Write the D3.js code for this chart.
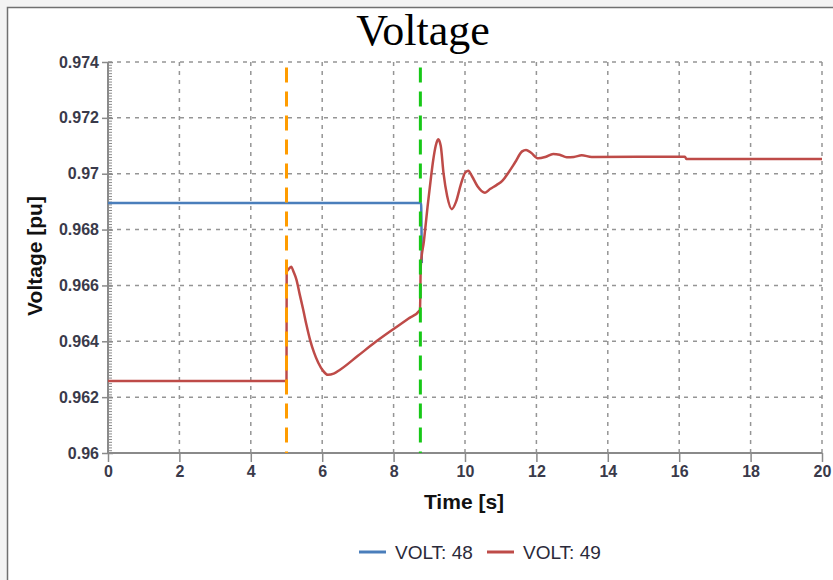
<!DOCTYPE html>
<html>
<head>
<meta charset="utf-8">
<script src="https://cdn.jsdelivr.net/npm/d3@7/dist/d3.min.js"></script>
<style>
  html, body { margin: 0; padding: 0; background: #f3f3f3; }
  svg { display: block; }
</style>
</head>
<body>
<svg id="chart" width="833" height="580"></svg>
<script>

// chart data
const volt48Time = [0, 8.77, 8.79];
const volt48Value = [0.96895, 0.96895, 0.96680];

const volt49Time = [
  0, 5.0, 5.005, 5.04, 5.13, 5.2, 5.28, 5.37, 5.47, 5.56, 5.66, 5.77, 5.89,
  6.02, 6.16, 6.32, 6.5, 7.0, 7.5, 8.0, 8.4, 8.74, 8.76, 8.85, 8.95, 9.05,
  9.11, 9.18, 9.25, 9.32, 9.4, 9.5, 9.63, 9.75, 9.88, 10.0, 10.09, 10.2,
  10.35, 10.56, 10.7, 10.89, 11.05, 11.2, 11.4, 11.6, 11.71, 11.85, 12.05,
  12.25, 12.47, 12.65, 12.85, 13.05, 13.27, 13.55, 16.16, 16.2, 20
];
const volt49Value = [
  0.96258, 0.96258, 0.96650, 0.96655, 0.96667, 0.96648, 0.96620, 0.96568,
  0.96512, 0.96458, 0.96405, 0.96360, 0.96323, 0.96295, 0.96280, 0.96284,
  0.96298, 0.96348, 0.96398, 0.96444, 0.96480, 0.96512, 0.96668, 0.96760,
  0.96880, 0.96990, 0.97049, 0.97100, 0.97123, 0.97100, 0.97000, 0.96920,
  0.96873, 0.96900, 0.96960, 0.97003, 0.97011, 0.96990, 0.96955, 0.96932,
  0.96945, 0.96960, 0.96975, 0.97001, 0.97040, 0.97080, 0.97085, 0.97075,
  0.97055, 0.97060, 0.97071, 0.97068, 0.97059, 0.97060, 0.97066, 0.97060,
  0.97061, 0.97053, 0.97053
];

const seriesNames = ['VOLT: 48', 'VOLT: 49'];
const seriesColors = ['#4a7ebb', '#be4b48'];

const eventTimes = [5.0, 8.75];
const eventColors = ['#ff9c00', '#17c817'];

const xTicks = [0, 2, 4, 6, 8, 10, 12, 14, 16, 18, 20];
const yTicks = [0.96, 0.962, 0.964, 0.966, 0.968, 0.97, 0.972, 0.974];
const yTickLabels = ['0.96', '0.962', '0.964', '0.966', '0.968', '0.97', '0.972', '0.974'];


const svg = d3.select('#chart');
const width = 833;
const height = 580;
const plot = { left: 108, right: 822, top: 62, bottom: 453 };

const x = d3.scaleLinear().domain([0, 20]).range([plot.left, plot.right]);
const y = d3.scaleLinear().domain([0.96, 0.974]).range([plot.bottom, plot.top]);

// frame
svg.append('rect')
  .attr('x', 7).attr('y', 7)
  .attr('width', width - 7).attr('height', height - 7)
  .style('fill', '#fff');

svg.append('path')
  .attr('d', `M7.5,${height} V7.5 H${width}`)
  .style('fill', 'none')
  .style('stroke', '#707070')
  .style('stroke-width', 1.5);

// title
svg.append('text')
  .attr('x', 423)
  .attr('y', 45)
  .attr('text-anchor', 'middle')
  .style('font-family', '"Liberation Serif", "DejaVu Serif", serif')
  .style('font-size', '44px')
  .style('fill', '#000')
  .text('Voltage');

// grid
const grid = svg.append('g').attr('class', 'grid')
  .style('stroke', '#959595')
  .style('stroke-width', 1.5)
  .style('stroke-dasharray', '4,5');

grid.selectAll('.vgrid')
  .data(xTicks.slice(1))
  .enter()
  .append('line')
  .attr('x1', d => x(d)).attr('x2', d => x(d))
  .attr('y1', plot.top).attr('y2', plot.bottom);

grid.selectAll('.hgrid')
  .data(yTicks.slice(1))
  .enter()
  .append('line')
  .attr('x1', plot.left).attr('x2', plot.right)
  .attr('y1', d => y(d)).attr('y2', d => y(d));

// axes
const labelFont = '"Liberation Sans", Arial, sans-serif';

const yMinor = svg.append('g')
  .attr('transform', `translate(${plot.left},0)`)
  .call(d3.axisRight(y)
    .tickValues(d3.range(0, 141).map(i => 0.96 + i * 0.0001))
    .tickSize(4)
    .tickFormat(''));

const yAxis = svg.append('g')
  .attr('transform', `translate(${plot.left},0)`)
  .call(d3.axisLeft(y)
    .tickValues(yTicks)
    .tickSize(5)
    .tickPadding(4)
    .tickFormat((d, i) => yTickLabels[i]));

yAxis.selectAll('.tick line').attr('x2', 5).attr('x1', -6);

const xAxis = svg.append('g')
  .attr('transform', `translate(0,${plot.bottom})`)
  .call(d3.axisBottom(x)
    .tickValues(xTicks)
    .tickSize(9)
    .tickPadding(4)
    .tickFormat(d3.format('d')));

[yMinor, yAxis, xAxis].forEach(axis => {
  axis.select('.domain').style('stroke', '#8a8a8a').style('stroke-width', 2);
  axis.selectAll('.tick line').style('stroke', '#8a8a8a').style('stroke-width', 1.5);
  axis.selectAll('.tick text')
    .style('font-family', labelFont)
    .style('font-size', '16px')
    .style('font-weight', 'bold')
    .style('fill', '#3a3a4a');
});
yMinor.selectAll('.tick line').style('stroke-width', 1);
xAxis.select('.domain').attr('d', `M${plot.left},0H${plot.right}`);
yAxis.select('.domain').attr('d', `M0,${plot.bottom}V${plot.top}`);
yMinor.select('.domain').remove();

// axis titles
svg.append('text')
  .attr('x', 464)
  .attr('y', 509)
  .attr('text-anchor', 'middle')
  .style('font-family', labelFont)
  .style('font-size', '21px')
  .style('font-weight', 'bold')
  .style('fill', '#111')
  .text('Time [s]');

svg.append('text')
  .attr('transform', 'translate(42,256) rotate(-90)')
  .attr('text-anchor', 'middle')
  .style('font-family', labelFont)
  .style('font-size', '21px')
  .style('font-weight', 'bold')
  .style('fill', '#111')
  .text('Voltage [pu]');

// series
const line = d3.line()
  .x(d => x(d[0]))
  .y(d => y(d[1]))
  .curve(d3.curveMonotoneX);
const series = [
  d3.zip(volt48Time, volt48Value),
  d3.zip(volt49Time, volt49Value)
];

svg.selectAll('.series')
  .data(series)
  .enter()
  .append('path')
  .attr('class', 'series')
  .attr('d', line)
  .style('fill', 'none')
  .style('stroke', (d, i) => seriesColors[i])
  .style('stroke-width', 2.5);

// event markers
svg.selectAll('.event')
  .data(eventTimes)
  .enter()
  .append('line')
  .attr('class', 'event')
  .attr('x1', d => x(d)).attr('x2', d => x(d))
  .attr('y1', y(0.9738)).attr('y2', plot.bottom)
  .style('stroke', (d, i) => eventColors[i])
  .style('stroke-width', 3)
  .style('stroke-dasharray', '15,9');

// legend
const legend = svg.append('g').attr('transform', 'translate(359,552)');
const legendOffsets = [0, 128];

const items = legend.selectAll('.item')
  .data(seriesNames)
  .enter()
  .append('g')
  .attr('transform', (d, i) => `translate(${legendOffsets[i]},0)`);

items.append('line')
  .attr('x1', 0).attr('x2', 27)
  .style('stroke', (d, i) => seriesColors[i])
  .style('stroke-width', 3);

items.append('text')
  .attr('x', 36)
  .attr('dy', '0.35em')
  .style('font-family', labelFont)
  .style('font-size', '19px')
  .style('fill', '#2a2a3a')
  .text(d => d);

</script>
</body>
</html>
